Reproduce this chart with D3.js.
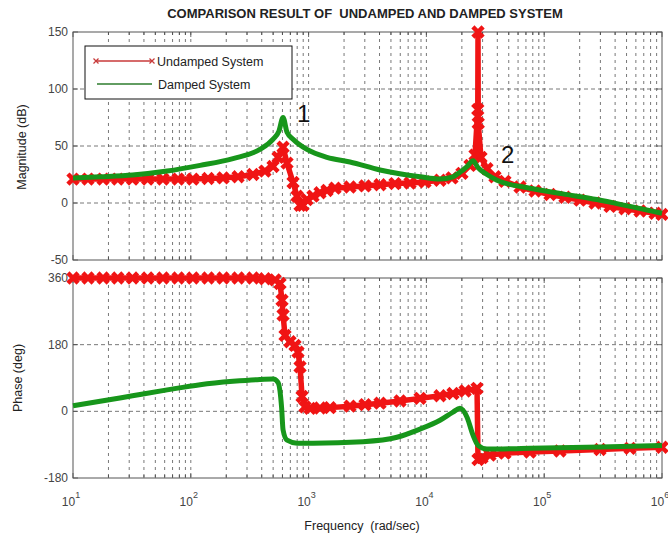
<!DOCTYPE html>
<html>
<head>
<meta charset="utf-8">
<script src="https://cdn.jsdelivr.net/npm/d3@7"></script>
<style>
  body { margin: 0; background: #fff; }
  text { font-family: "Liberation Sans", Arial, sans-serif; }
</style>
</head>
<body>
<div id="chart"></div>
<script>
// Bode data: [frequency (rad/sec), value]
var undampedMag = [[10,21],[13.4,21],[18,21],[24,21],[32,21],[43,21],[58,21],[78,21],[104,21],[140,21.5],[188,22],[252,23],[337,25],[426,28],[499,32],[550,40],[607,49],[656,35],[738,18],[798,6],[846,-2],[896,-2],[969,3],[1089,6],[1250,9],[1432,11],[1675,13],[2245,14],[3013,15],[4038,16],[5410,17],[7260,17.5],[9730,18.5],[13040,20],[16480,22],[20040,26],[23440,33],[25860,42],[27300,82],[27420,150],[27550,70],[29060,40],[32680,30],[38200,23],[46400,19],[62300,14],[83600,10.5],[112000,7.5],[150000,5],[201000,2.5],[270000,0],[362000,-3],[485000,-5],[650000,-7],[873000,-9],[1000000,-10]];

var dampedMag = [[10,22],[17,23],[32,24.5],[63,28],[120,33],[228,39],[386,47],[500,56],[560,63],[607,75],[656,62],[738,56],[969,47],[1432,40],[2245,36],[4038,29],[8830,23],[13040,21],[16820,23],[19280,27],[22120,32],[24900,37],[27420,31],[32680,25],[39730,20],[75700,13],[144500,8],[280600,3],[535000,-3],[1000000,-9]];

var undampedPhase = [[10,360],[13.4,360],[18,360],[24,360],[32,360],[43,360],[58,360],[78,360],[104,360],[140,360],[188,360],[252,360],[337,360],[426,358],[520,355],[572,345],[595,300],[607,260],[631,205],[695,188],[767,178],[813,160],[846,120],[880,40],[932,12],[1028,8],[1250,9],[1519,10],[2245,14],[3013,18],[4038,22],[5970,28],[8830,35],[13040,42],[16820,48],[21300,55],[26900,62],[27420,-130],[29640,-125],[34660,-118],[46400,-113],[75700,-110],[136000,-107],[297700,-103],[535000,-100],[1000000,-97]];

var dampedPhase = [[10,15],[17,27],[32,42],[63,58],[120,72],[228,81],[386,86],[500,87],[550,78],[590,10],[607,-50],[656,-78],[798,-86],[1089,-86],[2896,-82],[5627,-70],[8830,-48],[13040,-24],[16820,-2],[19280,8],[22120,-16],[24900,-65],[27420,-92],[32680,-102],[75700,-100],[300000,-96],[1000000,-92]];

var magTicks = [150, 100, 50, 0, -50];
var phaseTicks = [360, 180, 0, -180];
var decadeExps = [1, 2, 3, 4, 5, 6];
var seriesNames = ["Undamped System", "Damped System"];

var width = 668, height = 537;
var redColor = "#f01414", greenColor = "#17961b";

var svg = d3.select("#chart")
    .append("svg")
    .attr("width", width)
    .attr("height", height);

// Scales shared by both panels
var x = d3.scaleLog().domain([10, 1e6]).range([73, 662]);
var yMag = d3.scaleLinear().domain([-50, 150]).range([260, 32]);
var yPh = d3.scaleLinear().domain([-180, 360]).range([478, 278]);

// Draw one axes box with grid and ticks
function drawPanel(y, ticks) {
    var g = svg.append("g");
    var y0 = y.range()[0], y1 = y.range()[1];
    var xt = x.ticks().filter(function(d) { return d > 10 && d < 1e6; });

    // vertical grid (major and minor)
    g.selectAll("line.vg")
        .data(xt)
        .enter()
        .append("line")
        .attr("x1", function(d) { return x(d); })
        .attr("x2", function(d) { return x(d); })
        .attr("y1", y1)
        .attr("y2", y0)
        .attr("stroke", "#555")
        .attr("stroke-width", 0.8)
        .attr("stroke-dasharray", "3,4");

    // horizontal grid
    g.selectAll("line.hg")
        .data(ticks.filter(function(d) { return y(d) > y1 + 1 && y(d) < y0 - 1; }))
        .enter()
        .append("line")
        .attr("x1", x.range()[0])
        .attr("x2", x.range()[1])
        .attr("y1", function(d) { return y(d); })
        .attr("y2", function(d) { return y(d); })
        .attr("stroke", "#555")
        .attr("stroke-width", 0.8)
        .attr("stroke-dasharray", "4,3");

    // inward ticks on bottom/top
    xt.concat([10, 1e6]).forEach(function(d) {
        var major = Math.abs(Math.log10(d) - Math.round(Math.log10(d))) < 1e-6;
        var len = major ? 5 : 3;
        g.append("line").attr("x1", x(d)).attr("x2", x(d)).attr("y1", y0).attr("y2", y0 - len)
            .attr("stroke", "#444").attr("stroke-width", 0.8);
        g.append("line").attr("x1", x(d)).attr("x2", x(d)).attr("y1", y1).attr("y2", y1 + len)
            .attr("stroke", "#444").attr("stroke-width", 0.8);
    });

    // y ticks and labels
    ticks.forEach(function(d) {
        g.append("line").attr("x1", x.range()[0]).attr("x2", x.range()[0] + 5)
            .attr("y1", y(d)).attr("y2", y(d)).attr("stroke", "#444").attr("stroke-width", 0.8);
        g.append("line").attr("x1", x.range()[1]).attr("x2", x.range()[1] - 5)
            .attr("y1", y(d)).attr("y2", y(d)).attr("stroke", "#444").attr("stroke-width", 0.8);
        g.append("text")
            .attr("x", x.range()[0] - 5)
            .attr("y", y(d) + 4)
            .attr("text-anchor", "end")
            .attr("font-size", "12px")
            .attr("fill", "#444")
            .text(d);
    });

    // box
    g.append("rect")
        .attr("x", x.range()[0])
        .attr("y", y1)
        .attr("width", x.range()[1] - x.range()[0])
        .attr("height", y0 - y1)
        .attr("fill", "none")
        .attr("stroke", "#555")
        .attr("stroke-width", 1);
}

drawPanel(yMag, magTicks);
drawPanel(yPh, phaseTicks);

// x tick labels as 10^n
decadeExps.forEach(function(e) {
    var t = svg.append("text")
        .attr("x", x(Math.pow(10, e)) - 2)
        .attr("y", 506)
        .attr("text-anchor", "middle")
        .attr("font-size", "12px")
        .attr("fill", "#444");
    t.append("tspan").text("10");
    t.append("tspan").attr("dy", -8).attr("font-size", "9px").text(e);
});

// marker path for 'x'
function xMarker(cx, cy, r) {
    return "M" + (cx - r) + "," + (cy - r) + "L" + (cx + r) + "," + (cy + r) +
        "M" + (cx - r) + "," + (cy + r) + "L" + (cx + r) + "," + (cy - r);
}

function drawSeries(data, y, color, markers, curve) {
    var line = d3.line()
        .x(function(d) { return x(d[0]); })
        .y(function(d) { return y(d[1]); })
        .curve(curve);
    svg.append("path")
        .datum(data)
        .attr("d", line)
        .attr("fill", "none")
        .attr("stroke", color)
        .attr("stroke-width", markers ? 5.5 : 5)
        .attr("stroke-linejoin", "round");
    if (markers) {
        // thick 'x' markers blur into blocks, like the original
        svg.append("g")
            .selectAll("path")
            .data(data)
            .enter()
            .append("path")
            .attr("d", function(d) { return xMarker(x(d[0]), y(d[1]), 3.5); })
            .attr("stroke", color)
            .attr("stroke-width", 4.5)
            .attr("stroke-linecap", "square")
            .attr("fill", "none");
    }
}

drawSeries(undampedMag, yMag, redColor, true, d3.curveLinear);
drawSeries(dampedMag, yMag, greenColor, false, d3.curveMonotoneX);
drawSeries(undampedPhase, yPh, redColor, true, d3.curveLinear);
drawSeries(dampedPhase, yPh, greenColor, false, d3.curveMonotoneX);

// legend
var legend = svg.append("g");
legend.append("rect")
    .attr("x", 85).attr("y", 46).attr("width", 207).attr("height", 53)
    .attr("fill", "#fff").attr("stroke", "#111").attr("stroke-width", 1);
legend.append("line").attr("x1", 96).attr("x2", 152).attr("y1", 61).attr("y2", 61)
    .attr("stroke", "#c83a3a").attr("stroke-width", 1.3);
[96, 152].forEach(function(px) {
    legend.append("path").attr("d", xMarker(px, 61, 2.5))
        .attr("stroke", "#c83a3a").attr("stroke-width", 1.2);
});
legend.append("line").attr("x1", 97).attr("x2", 152).attr("y1", 84).attr("y2", 84)
    .attr("stroke", "#2e7d2e").attr("stroke-width", 1.3);
legend.append("text").attr("x", 157).attr("y", 66).attr("font-size", "12.5px")
    .attr("fill", "#222").text(seriesNames[0]);
legend.append("text").attr("x", 158).attr("y", 89).attr("font-size", "12.5px")
    .attr("fill", "#222").text(seriesNames[1]);

// annotations
svg.append("text").attr("x", 297).attr("y", 122).attr("font-size", "24px")
    .attr("font-family", "Open Sans, sans-serif").attr("fill", "#111").text("1");
svg.append("text").attr("x", 501).attr("y", 163).attr("font-size", "24px")
    .attr("font-family", "Open Sans, sans-serif").attr("fill", "#111").text("2");

// title and axis labels
svg.append("text")
    .attr("x", 365).attr("y", 18)
    .attr("text-anchor", "middle")
    .attr("font-size", "13px")
    .attr("font-weight", "bold")
    .attr("fill", "#222")
    .style("white-space", "pre")
    .text("COMPARISON RESULT OF  UNDAMPED AND DAMPED SYSTEM");

svg.append("text")
    .attr("transform", "translate(26,147) rotate(-90)")
    .attr("text-anchor", "middle")
    .attr("font-size", "12.5px")
    .attr("fill", "#222")
    .text("Magnitude (dB)");

svg.append("text")
    .attr("transform", "translate(22,378) rotate(-90)")
    .attr("text-anchor", "middle")
    .attr("font-size", "12.5px")
    .attr("fill", "#222")
    .text("Phase (deg)");

svg.append("text")
    .attr("x", 362).attr("y", 530)
    .attr("text-anchor", "middle")
    .attr("font-size", "12.5px")
    .attr("fill", "#222")
    .style("white-space", "pre")
    .text("Frequency  (rad/sec)");
</script>
</body>
</html>
